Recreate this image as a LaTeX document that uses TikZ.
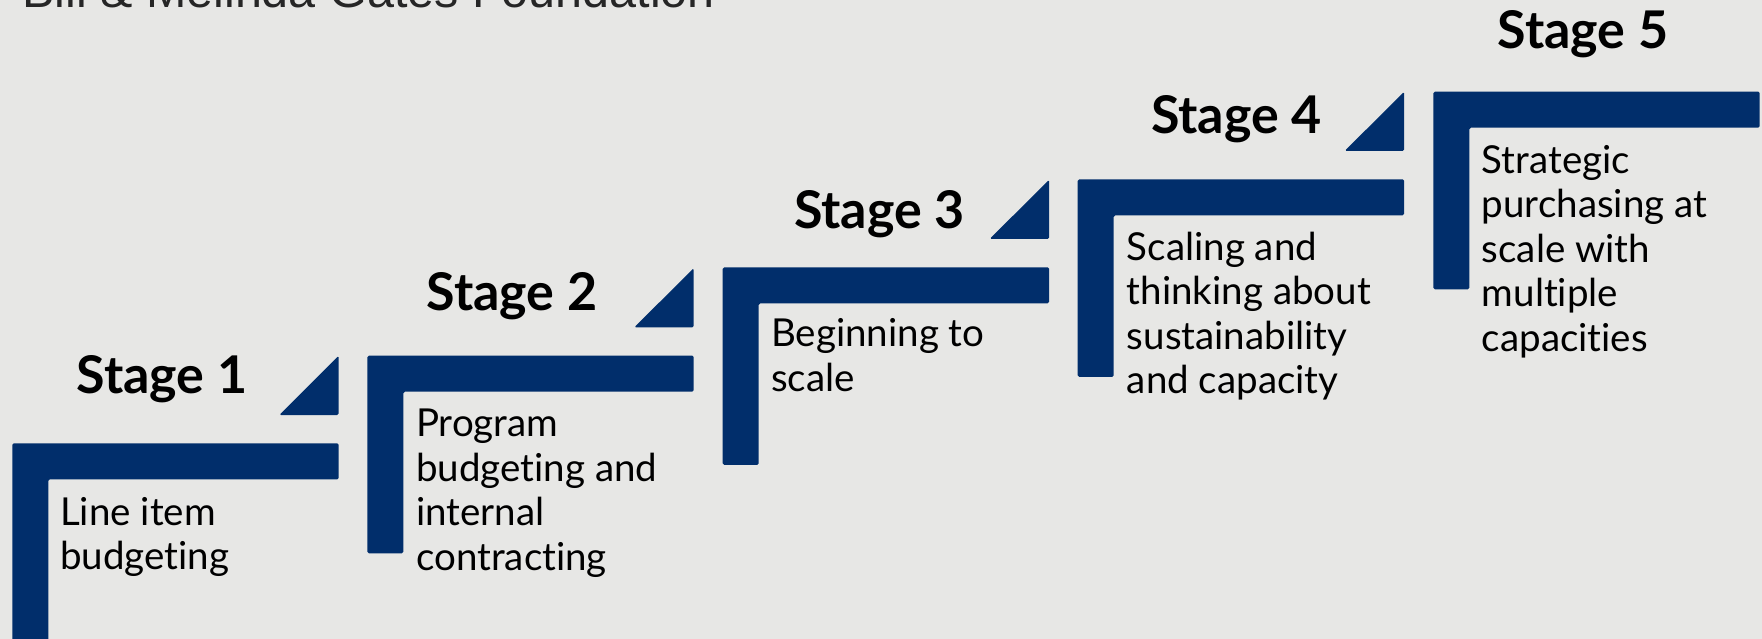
\documentclass[tikz,border=0pt]{standalone}
\usepackage{fontspec}
\setmainfont{Lato}[Ligatures=NoCommon]
\newfontfamily\titlefont{Liberation Sans}
\definecolor{bgc}{HTML}{E7E7E5}
\definecolor{navy}{HTML}{012E6B}
\begin{document}
\begin{tikzpicture}[x=1pt,y=-1pt,
  stepshape/.style={fill=navy, rounded corners=1.5pt},
  headtxt/.style={font=\fontsize{52}{60}\selectfont\bfseries, anchor=base, inner sep=0pt, text=black},
  bodytxt/.style={font=\fontsize{38.5}{44.5}\selectfont, anchor=base west, align=left, inner sep=0pt, text=black}]
\fill[bgc] (0,0) rectangle (1762,639);
\useasboundingbox (0,0) rectangle (1762,639);
\clip (0,0) rectangle (1762,639);
\node[font=\titlefont\fontsize{48.5}{58}\selectfont, anchor=base west, inner sep=0pt, text=black!85] (title) at (22,8) {Bill \& Melinda Gates Foundation};
% stages
\foreach \xa/\ya in {12.3/443.3, 367.3/355.7, 722.7/267.3, 1077.7/179.3, 1433.3/91.7}{
  \fill[stepshape] (\xa,\ya) -- ++(326.4,0) -- ++(0,36) -- ++(-290.4,0) -- ++(0,161.6) -- ++(-36,0) -- cycle;
}
\foreach \xa/\ya in {12.3/443.3, 367.3/355.7, 722.7/267.3, 1077.7/179.3}{
  \fill[stepshape] (\xa+326.4,\ya-87.6) -- (\xa+326.4,\ya-28.3) -- (\xa+267,\ya-28.3) -- cycle;
}
\node[headtxt] (h1) at (162,393) {Stage 1};
\node[headtxt] (h2) at (512,310) {Stage 2};
\node[headtxt] (h3) at (879.5,228.3) {Stage 3};
\node[headtxt] (h4) at (1236.5,133.3) {Stage 4};
\node[headtxt] (h5) at (1583,48.3) {Stage 5};
% body texts: anchor is the baseline of the last line
\node[bodytxt] (b1) at (60,569.5) {Line item\\budgeting};
\node[bodytxt] (b2) at (416,570.2) {Program\\budgeting and\\internal\\contracting};
\node[bodytxt] (b3) at (771,391.2) {Beginning to\\scale};
\node[bodytxt] (b4) at (1126.7,393.5) {Scaling and\\thinking about\\sustainability\\and capacity};
\node[bodytxt] (b5) at (1481.7,351.3) {Strategic\\purchasing at\\scale with\\multiple\\capacities};
\end{tikzpicture}
\end{document}
